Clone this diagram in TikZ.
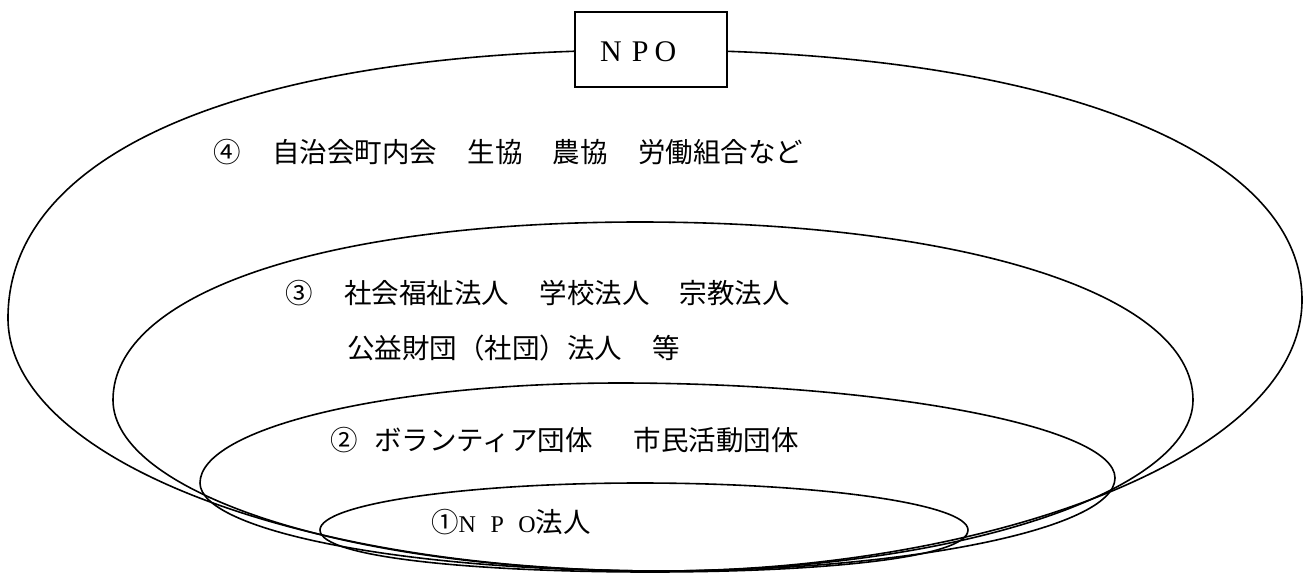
\documentclass[tikz,border=0pt]{standalone}
\usepackage{fontspec}
\setmainfont{Liberation Serif}
\newfontfamily\jp{Noto Sans CJK JP}
\begin{document}
\begin{tikzpicture}[x=1pt,y=-1pt,
  lbl/.style={anchor=west, inner sep=0pt, font=\jp\fontsize{27.5}{32}\selectfont},
  ring/.style={draw=black, line width=1.6pt},
  box/.style={draw=black, fill=white, line width=1.6pt, minimum width=152pt, minimum height=75pt, inner sep=0pt}]
\useasboundingbox (0,0) rectangle (1311,574);
% shape 4 (outer)
\draw[ring] (650,50) .. controls (250,50) and (8,150) .. (8,318) .. controls (8,460) and (300,571) .. (660,571) .. controls (980,571) and (1302,460) .. (1302,300) .. controls (1302,150) and (1050,50) .. (650,50) -- cycle;
% shape 3
\draw[ring] (640,222) .. controls (324,222) and (113,293) .. (113,400) .. controls (113,490) and (340,571) .. (660,571) .. controls (960,571) and (1193,490) .. (1193,400) .. controls (1193,293) and (960,222) .. (640,222) -- cycle;
% shape 2
\draw[ring] (620,383) .. controls (389,383) and (200,428) .. (200,483) .. controls (200,530) and (400,571) .. (660,571) .. controls (900,571) and (1115,530) .. (1115,478) .. controls (1115,426) and (880,383) .. (620,383) -- cycle;
% shape 1
\draw[ring] (640,483) .. controls (464,483) and (320,504) .. (320,530) .. controls (320,558) and (480,572) .. (650,572) .. controls (820,572) and (968,558) .. (968,530) .. controls (968,504) and (820,483) .. (640,483) -- cycle;
% title box
\node[box] (npo) at (651,49.5) {};
\node[anchor=west, inner sep=0pt, font=\fontsize{30}{32}\selectfont] (npot) at (600,52) {N\hspace{10pt}P\hspace{6pt}O};
% labels
\node[lbl] (t4) at (213,152) {④\hspace{1.15em}自治会町内会\hspace{1.1em}生協\hspace{1.1em}農協\hspace{1.1em}労働組合など};
\node[lbl] (t3a) at (285,293) {③\hspace{1.15em}社会福祉法人\hspace{1.1em}学校法人\hspace{1.1em}宗教法人};
\node[lbl] (t3b) at (347,348) {公益財団（社団）法人\hspace{1.1em}等};
\node[lbl] (t2) at (330,440) {②\hspace{0.6em}ボランティア団体\hspace{1.5em}市民活動団体};
\node[lbl] (t1) at (431,522) {①{\rmfamily\fontsize{24}{28}\selectfont N\hspace{14.5pt}P\hspace{14.5pt}O}法人};
\end{tikzpicture}
\end{document}
